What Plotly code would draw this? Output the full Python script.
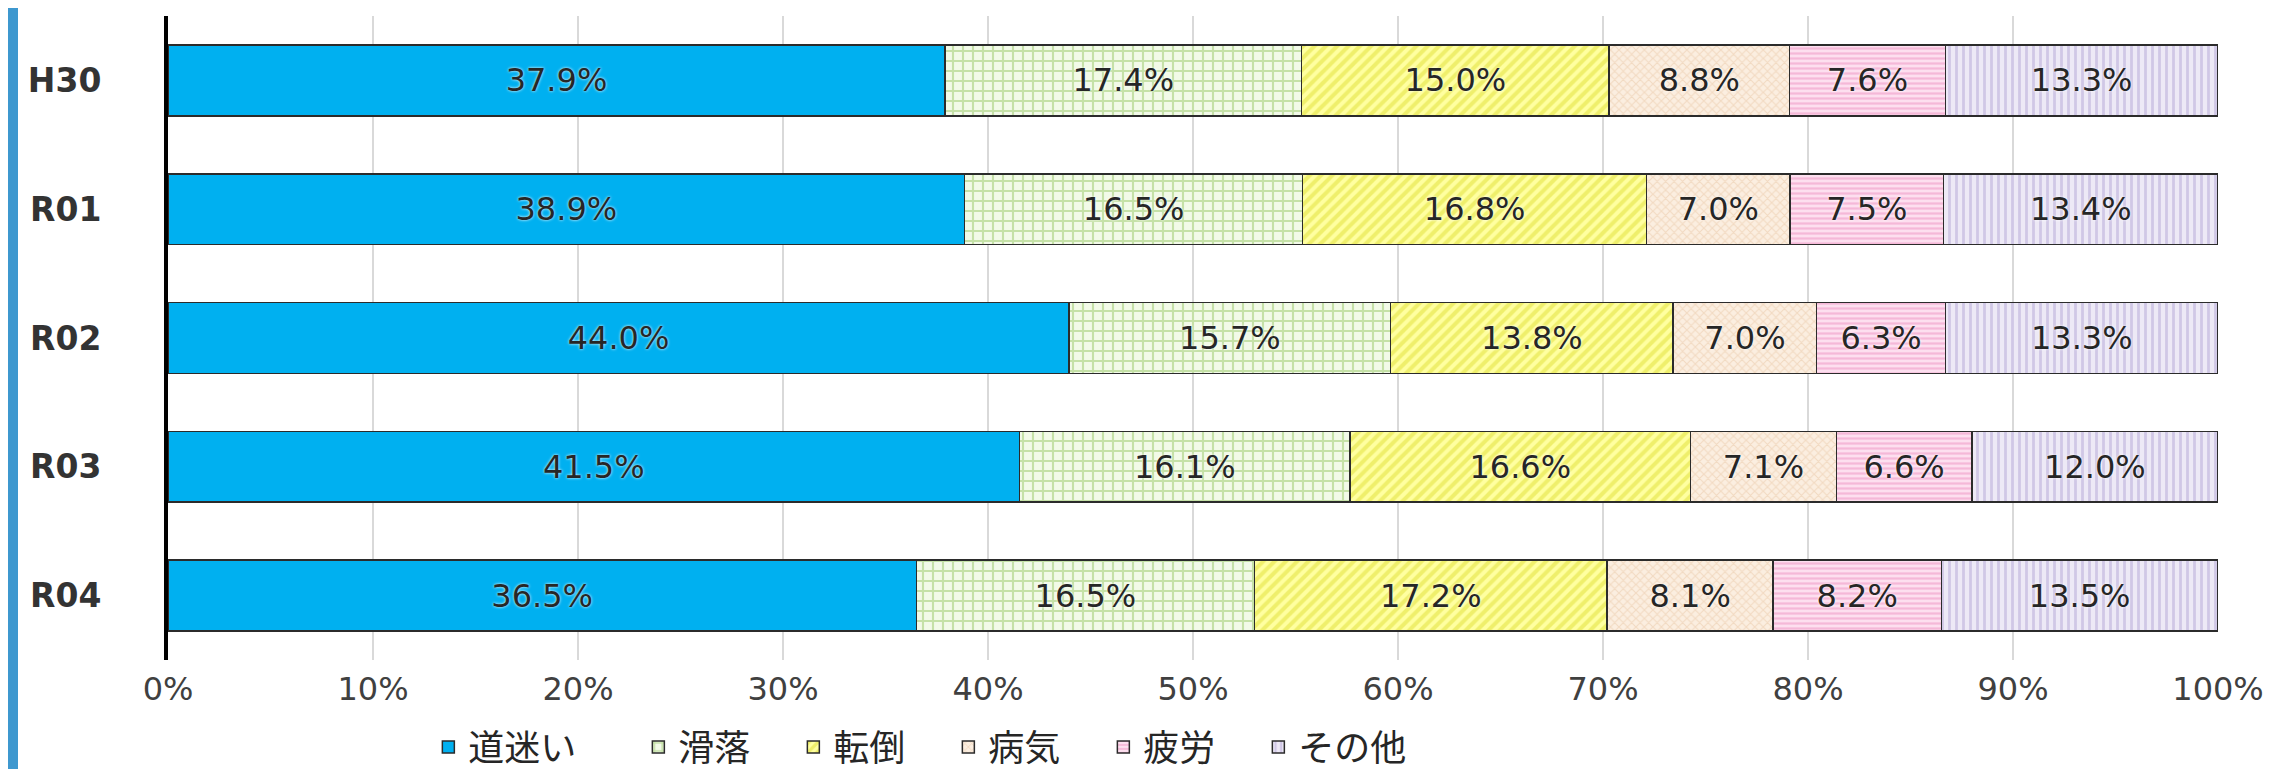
import plotly.graph_objects as go

years = ["H30", "R01", "R02", "R03", "R04"]
causes = ["道迷い", "滑落", "転倒", "病気", "疲労", "その他"]
michimayoi = [37.9, 38.9, 44.0, 41.5, 36.5]
katsuraku = [17.4, 16.5, 15.7, 16.1, 16.5]
tentou = [15.0, 16.8, 13.8, 16.6, 17.2]
byouki = [8.8, 7.0, 7.0, 7.1, 8.1]
hirou = [7.6, 7.5, 6.3, 6.6, 8.2]
sonota = [13.3, 13.4, 13.3, 12.0, 13.5]
x_ticks = [0, 10, 20, 30, 40, 50, 60, 70, 80, 90, 100]
x_tick_labels = [f"{v}%" for v in x_ticks]

series = [michimayoi, katsuraku, tentou, byouki, hirou, sonota]
legend_widths = [165, 110, 110, 110, 110, 130]
styles = [
    dict(color="#00B0F0", pattern=dict(shape="")),
    dict(color="#EEF8E2", pattern=dict(shape="+", fgcolor="#98C866", bgcolor="#F2FAE8", size=10, solidity=0.38)),
    dict(color="#FFFF9E", pattern=dict(shape="/", fgcolor="#E0E036", bgcolor="#FFFFA0", size=8, solidity=0.5)),
    dict(color="#FBEFE2", pattern=dict(shape="x", fgcolor="#E8C6A4", bgcolor="#FBEEE0", size=6, solidity=0.35)),
    dict(color="#FCD6EA", pattern=dict(shape="-", fgcolor="#EE92C2", bgcolor="#FDDFEF", size=5, solidity=0.45)),
    dict(color="#E9E4F4", pattern=dict(shape="|", fgcolor="#B3A6D6", bgcolor="#EDE9F6", size=7, solidity=0.4)),
]

fig = go.Figure()
for name, vals, st, lw in zip(causes, series, styles, legend_widths):
    fig.add_trace(go.Bar(
        name=name,
        y=years,
        x=vals,
        orientation="h",
        legendwidth=lw,
        marker=dict(color=st["color"], pattern=st["pattern"],
                    line=dict(color="#2B2B2B", width=1.5)),
        text=[f"{v:.1f}%" for v in vals],
        textposition="inside",
        insidetextanchor="middle",
        constraintext="none",
        textangle=0,
        textfont=dict(family="DejaVu Sans", size=32, color="#262626",
                      shadow="0px 0px 3px white"),
        hoverinfo="skip",
    ))

fig.update_layout(
    barmode="stack",
    barnorm="percent",
    bargap=0.45,
    width=2280,
    height=769,
    margin=dict(l=160, r=70, t=8, b=117, autoexpand=False),
    paper_bgcolor="white",
    plot_bgcolor="white",
    showlegend=True,
    legend=dict(
        orientation="h",
        x=0.127, xanchor="left",
        yref="container",
        y=1 - 739 / 769, yanchor="middle",
        font=dict(family="Noto Sans CJK JP", size=36, color="#262626"),
        traceorder="normal",
        itemwidth=30,
        tracegroupgap=0,
    ),
    xaxis=dict(
        range=[0, 100],
        tickvals=x_ticks,
        ticktext=x_tick_labels,
        showgrid=True,
        gridcolor="#D9D9D9",
        gridwidth=2,
        zeroline=False,
        showline=False,
        ticks="",
        ticklabelstandoff=7,
        tickfont=dict(family="DejaVu Sans", size=32, color="#404040"),
        fixedrange=True,
    ),
    yaxis=dict(
        categoryorder="array",
        categoryarray=years,
        autorange="reversed",
        showline=True,
        linecolor="black",
        linewidth=4,
        showgrid=False,
        ticks="",
        ticklabelstandoff=56,
        tickfont=dict(family="DejaVu Sans", size=33, color="#333333", weight="bold"),
        fixedrange=True,
    ),
    shapes=[dict(
        type="rect", xref="paper", yref="paper",
        x0=-160 / 2050, x1=-150 / 2050,
        y0=-117 / 644, y1=(644 + 8) / 644,
        fillcolor="#3E98CF", line=dict(width=0), layer="above",
    )],
)

fig.write_html("out.html")
